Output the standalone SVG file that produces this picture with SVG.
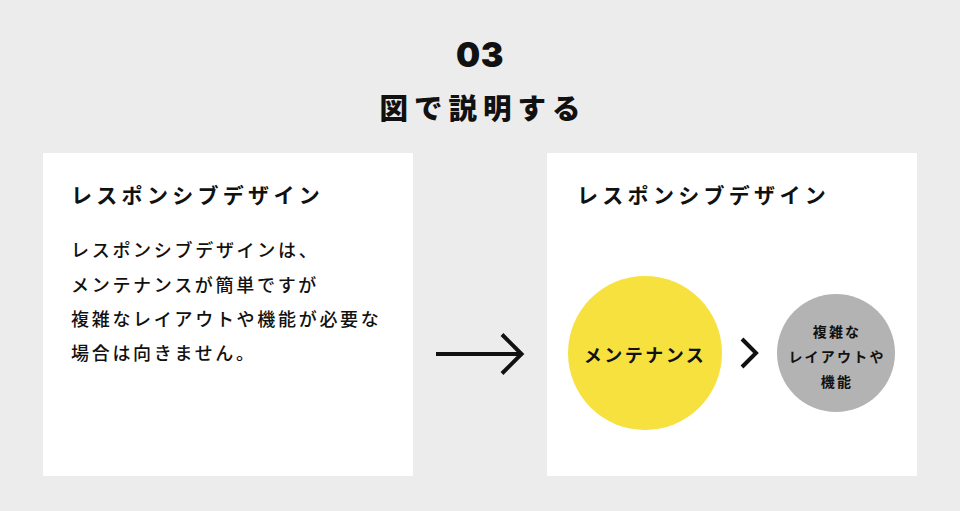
<svg xmlns="http://www.w3.org/2000/svg" width="960" height="511" viewBox="0 0 960 511">
<style>
text{font-family:"Noto Sans CJK JP","Noto Sans",sans-serif;fill:#111}
.h{font-weight:700}
.pt{font-size:21px;font-weight:700;letter-spacing:4.3px}
.body{font-size:18px;font-weight:500;letter-spacing:2.7px}
.stroke{fill:none;stroke:#111;stroke-width:4}
.c{text-anchor:middle}
.g{font-size:14px;font-weight:700;letter-spacing:2.2px;text-anchor:middle}
</style>
<rect width="960" height="511" fill="#ececec"/>
<g id="title">
<text class="c" x="480" y="67" font-size="34" font-weight="900" style="font-family:Inter,'Noto Sans',sans-serif" letter-spacing="0.5">03</text>
<text class="c" x="483" y="119" font-size="28.5" font-weight="900" letter-spacing="6">図で説明する</text>
</g>
<g id="left-panel">
<rect x="43" y="153" width="370" height="323" fill="#fff"/>
<text class="pt" x="71" y="203">レスポンシブデザイン</text>
<text class="body" x="71" y="257">レスポンシブデザインは、</text>
<text class="body" x="71" y="292">メンテナンスが簡単ですが</text>
<text class="body" x="71" y="326">複雑なレイアウトや機能が必要な</text>
<text class="body" x="71" y="360">場合は向きません。</text>
</g>
<g id="right-panel">
<rect x="547" y="153" width="370" height="323" fill="#fff"/>
<text class="pt" x="577" y="203">レスポンシブデザイン</text>
</g>
<g id="maintenance">
<circle cx="645" cy="353" r="77" fill="#f6e13f"/>
<text class="h c" x="645" y="362" font-size="18" letter-spacing="2.5">メンテナンス</text>
</g>
<g id="complex">
<circle cx="836" cy="353" r="59" fill="#b3b3b3"/>
<text class="g" x="837" y="337">複雑な</text>
<text class="g" x="837" y="362">レイアウトや</text>
<text class="g" x="837" y="387">機能</text>
</g>
<g id="connectors">
<path class="stroke" d="M436 354H521M502 334.5L521.5 354L502 373.5"/>
<path class="stroke" d="M742 339L756 353L742 367"/>
</g>
</svg>
